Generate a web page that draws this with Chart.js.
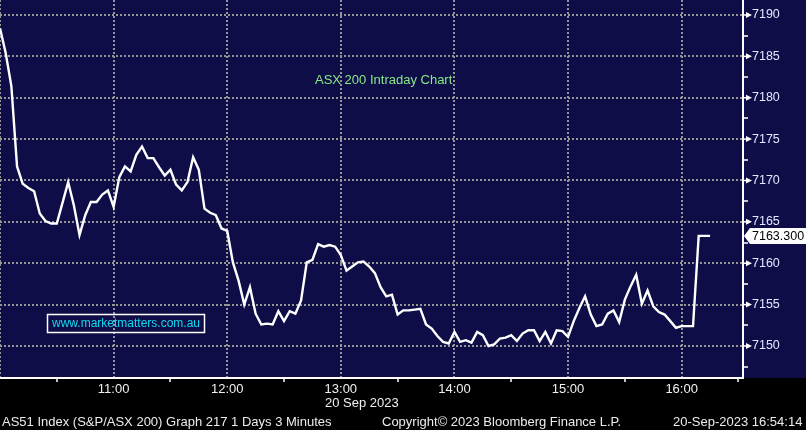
<!DOCTYPE html>
<html>
<head>
<meta charset="utf-8">
<script src="https://cdn.jsdelivr.net/npm/chart.js@4.4.0/dist/chart.umd.min.js"></script>
<style>
html, body { margin: 0; padding: 0; background: #000; overflow: hidden; }
#wrap { position: relative; width: 806px; height: 430px; }
#chart { display: block; }
.status { position: absolute; top: 414px; font: 13px/15px "Liberation Sans", Arial, sans-serif; color: #ececec; white-space: nowrap; }
</style>
</head>
<body>
<div id="wrap">
  <canvas id="chart" width="806" height="430"></canvas>
  <div class="status" style="left:2px">AS51 Index (S&amp;P/ASX 200) Graph 217 1 Days 3 Minutes</div>
  <div class="status" style="left:382px">Copyright© 2023 Bloomberg Finance L.P.</div>
  <div class="status" style="left:673px">20-Sep-2023 16:54:14</div>
</div>
<script>
// AS51 intraday, 3 minute bars from 10:00
var barMinutes = 3;
var closes = [
  7188.4, 7185.4, 7181.4, 7171.7, 7169.6, 7169.1, 7168.7, 7166.0, 7165.1, 7164.8,
  7164.8, 7167.3, 7169.8, 7167.0, 7163.4, 7165.8, 7167.4, 7167.4, 7168.3, 7168.8,
  7166.8, 7170.4, 7171.7, 7171.1, 7173.1, 7174.1, 7172.7, 7172.7, 7171.6, 7170.6,
  7171.3, 7169.5, 7168.8, 7169.8, 7172.8, 7171.3, 7166.6, 7166.1, 7165.8, 7164.2,
  7163.9, 7160.1, 7157.9, 7155.0, 7157.1, 7153.9, 7152.6, 7152.7, 7152.6, 7154.2,
  7153.0, 7154.2, 7153.9, 7155.5, 7160.1, 7160.4, 7162.3, 7162.0, 7162.2, 7162.0,
  7161.0, 7159.1, 7159.6, 7160.1, 7160.2, 7159.6, 7158.8, 7157.1, 7156.0, 7156.2,
  7153.8, 7154.3, 7154.3, 7154.4, 7154.5, 7152.6, 7152.1, 7151.2, 7150.5, 7150.3,
  7151.7, 7150.5, 7150.7, 7150.4, 7151.7, 7151.3, 7150.0, 7150.2, 7150.9, 7151.0,
  7151.3, 7150.6, 7151.5, 7151.9, 7151.9, 7150.6, 7151.7, 7150.3, 7151.9, 7151.8,
  7151.1, 7153.0, 7154.6, 7156.0, 7153.8, 7152.4, 7152.6, 7153.9, 7154.3, 7152.9,
  7155.6, 7157.2, 7158.6, 7155.1, 7156.7, 7154.8, 7154.1, 7153.8, 7153.0, 7152.2,
  7152.4, 7152.4, 7152.4, 7163.3, 7163.3, 7163.3
];

var xTickMinutes = [0, 30, 60, 90, 120, 150, 180, 210, 240, 270, 300, 330, 360, 390];
var xTickLabels = ['', '', '11:00', '', '12:00', '', '13:00', '', '14:00', '', '15:00', '', '16:00', ''];
var yTickValues = [7147.5, 7150, 7152.5, 7155, 7157.5, 7160, 7162.5, 7165, 7167.5, 7170,
                   7172.5, 7175, 7177.5, 7180, 7182.5, 7185, 7187.5, 7190];
var yMajorTicks = [7150, 7155, 7160, 7165, 7170, 7175, 7180, 7185, 7190];

var xMax = 392.4;
var yMin = 7146.13;
var yMax = 7191.81;

var points = closes.map(function (v, i) { return { x: i * barMinutes, y: v }; });

function isMajor(v) { return yMajorTicks.indexOf(v) !== -1; }
function tickVal(c) { return c.tick ? c.tick.value : null; }

var fontName = '"Liberation Sans", Arial, sans-serif';
var gridGray = '#959595';

var bloombergPlugin = {
  id: 'bloomberg',
  beforeDraw: function (chart) {
    var ctx = chart.ctx;
    ctx.save();
    ctx.fillStyle = '#000';
    ctx.fillRect(0, 0, chart.width, chart.height);
    ctx.fillStyle = '#0f0d47';
    ctx.fillRect(0, 0, chart.width, chart.chartArea.bottom);
    ctx.restore();
  },
  afterDraw: function (chart) {
    var ctx = chart.ctx;
    var xs = chart.scales.x;
    var ys = chart.scales.y;
    var ax = chart.chartArea.right;
    ctx.save();

    // arrow marks on the major price ticks
    ctx.fillStyle = '#fff';
    yMajorTicks.forEach(function (v) {
      var py = ys.getPixelForValue(v);
      ctx.fillRect(ax, py - 0.75, 5, 1.5);
      ctx.beginPath();
      ctx.moveTo(ax + 3, py - 3);
      ctx.lineTo(ax + 9, py);
      ctx.lineTo(ax + 3, py + 3);
      ctx.closePath();
      ctx.fill();
    });

    // date under the time axis
    ctx.font = '13px ' + fontName;
    ctx.fillStyle = '#f0f0f0';
    ctx.textAlign = 'center';
    ctx.textBaseline = 'middle';
    ctx.fillText('20 Sep 2023', xs.getPixelForValue(180) + 21, 403);

    // title
    ctx.fillStyle = '#86e886';
    ctx.textAlign = 'left';
    ctx.fillText('ASX 200 Intraday Chart', 315, 80);

    // watermark box
    ctx.strokeStyle = '#fff';
    ctx.lineWidth = 1.5;
    ctx.strokeRect(47.5, 314.5, 157, 18);
    ctx.fillStyle = '#12d8f0';
    ctx.font = '12px ' + fontName;
    ctx.textAlign = 'center';
    ctx.fillText('www.marketmatters.com.au', 126, 324);

    // last price flag
    var last = closes[closes.length - 1];
    var py = ys.getPixelForValue(last);
    ctx.fillStyle = '#fff';
    ctx.beginPath();
    ctx.moveTo(ax + 1, py);
    ctx.lineTo(ax + 7, py - 8);
    ctx.lineTo(chart.width, py - 8);
    ctx.lineTo(chart.width, py + 8);
    ctx.lineTo(ax + 7, py + 8);
    ctx.closePath();
    ctx.fill();
    ctx.fillStyle = '#000';
    ctx.font = '12.5px ' + fontName;
    ctx.textAlign = 'left';
    ctx.fillText(last.toFixed(3), ax + 9, py + 0.5);

    ctx.restore();
  }
};

var ctx = document.getElementById('chart').getContext('2d');
var chart = new Chart(ctx, {
  type: 'line',
  data: {
    datasets: [{
      data: points,
      borderColor: '#ffffff',
      borderWidth: 2.4,
      pointRadius: 0,
      tension: 0
    }]
  },
  options: {
    responsive: false,
    animation: false,
    layout: { padding: 0 },
    plugins: {
      legend: { display: false },
      tooltip: { enabled: false }
    },
    scales: {
      x: {
        type: 'linear',
        min: 0,
        max: xMax,
        afterFit: function (s) { s.height = 52; s.paddingLeft = 0; s.paddingRight = 0; },
        afterBuildTicks: function (s) { s.ticks = xTickMinutes.map(function (v) { return { value: v }; }); },
        grid: {
          color: function (c) { return tickVal(c) % 60 === 0 ? gridGray : 'transparent'; },
          lineWidth: 2,
          tickColor: function (c) { return tickVal(c) % 60 === 30 ? '#ffffff' : 'transparent'; },
          tickLength: 4,
          tickWidth: 1.5
        },
        border: { color: '#ffffff', width: 2, dash: [2, 2] },
        ticks: {
          color: '#f0f0f0',
          font: { family: fontName, size: 13 },
          padding: 0,
          maxRotation: 0,
          autoSkip: false,
          callback: function (v) {
            var i = xTickMinutes.indexOf(v);
            return i === -1 ? '' : xTickLabels[i];
          }
        }
      },
      y: {
        position: 'right',
        min: yMin,
        max: yMax,
        afterFit: function (s) { s.width = 63; s.paddingTop = 0; s.paddingBottom = 0; },
        afterBuildTicks: function (s) { s.ticks = yTickValues.map(function (v) { return { value: v }; }); },
        grid: {
          color: function (c) { return isMajor(tickVal(c)) ? gridGray : 'transparent'; },
          lineWidth: 2,
          tickColor: function (c) { return isMajor(tickVal(c)) ? 'transparent' : '#ffffff'; },
          tickLength: 5,
          tickWidth: 1.5
        },
        border: { color: '#ffffff', width: 2, dash: [2, 2] },
        ticks: {
          color: '#e2e8ff',
          font: { family: fontName, size: 12.5 },
          padding: 4,
          autoSkip: false,
          callback: function (v) { return isMajor(v) ? String(v) : ''; }
        }
      }
    }
  },
  plugins: [bloombergPlugin]
});
</script>
</body>
</html>
